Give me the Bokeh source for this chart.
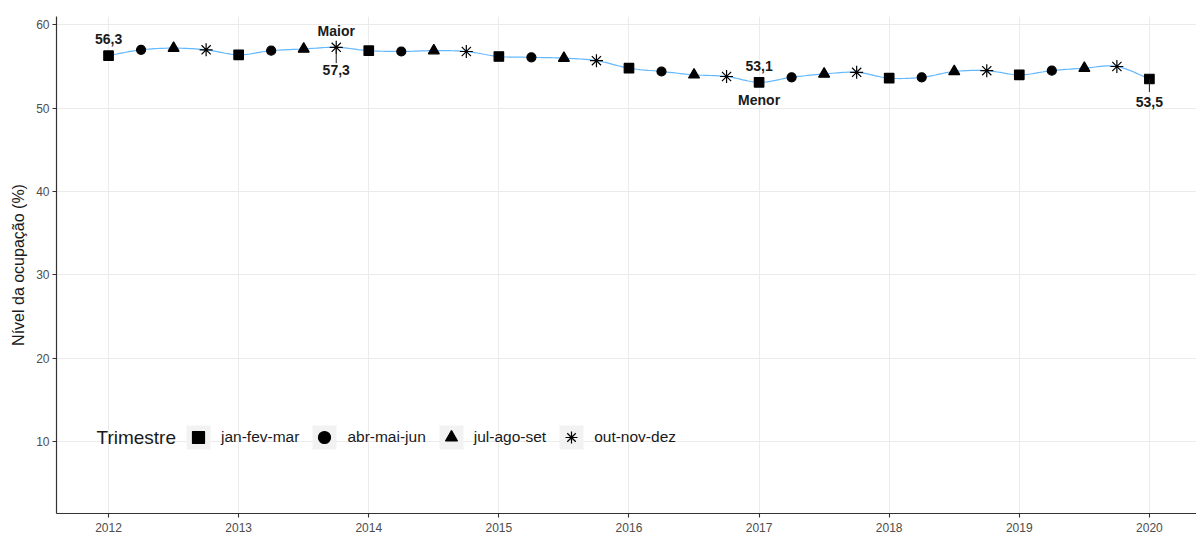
import numpy as np
from bokeh.plotting import figure
from bokeh.models import Range1d, FixedTicker, Legend, LegendItem, Label, ColumnDataSource, CustomJSTickFormatter
from bokeh.core.properties import value
from bokeh.embed import file_html
from bokeh.resources import INLINE

# ---------------- data ----------------
ano = [2012, 2012, 2012, 2012,
       2013, 2013, 2013, 2013,
       2014, 2014, 2014, 2014,
       2015, 2015, 2015, 2015,
       2016, 2016, 2016, 2016,
       2017, 2017, 2017, 2017,
       2018, 2018, 2018, 2018,
       2019, 2019, 2019, 2019,
       2020]
trimestre_num = [1, 2, 3, 4] * 8 + [1]
nivel = [56.3, 57.0, 57.2, 57.0,
         56.4, 56.9, 57.1, 57.3,
         56.9, 56.8, 56.9, 56.8,
         56.2, 56.1, 56.0, 55.7,
         54.8, 54.4, 54.0, 53.8,
         53.1, 53.7, 54.1, 54.3,
         53.6, 53.7, 54.4, 54.5,
         54.0, 54.5, 54.8, 55.0,
         53.5]
trimestres = ["jan-fev-mar", "abr-mai-jun", "jul-ago-set", "out-nov-dez"]
x_ticks = [2012, 2013, 2014, 2015, 2016, 2017, 2018, 2019, 2020]
y_ticks = [10, 20, 30, 40, 50, 60]

FONT = "Liberation Sans"

x = np.array(ano) + (np.array(trimestre_num) - 1) / 4.0
y = np.array(nivel)


def catmull(xs, ys, n=12):
    P = np.column_stack([xs, ys])
    P = np.vstack([P[0], P, P[-1]])
    out = []
    t = np.linspace(0, 1, n, endpoint=False)[:, None]
    for i in range(1, len(P) - 2):
        p0, p1, p2, p3 = P[i - 1], P[i], P[i + 1], P[i + 2]
        seg = 0.5 * ((2 * p1) + (-p0 + p2) * t + (2 * p0 - 5 * p1 + 4 * p2 - p3) * t ** 2
                     + (-p0 + 3 * p1 - 3 * p2 + p3) * t ** 3)
        out.append(seg)
    out.append(P[-2][None, :])
    arr = np.vstack(out)
    return arr[:, 0], arr[:, 1]


p = figure(width=1196, height=539, output_backend="svg", toolbar_location=None,
           x_range=Range1d(2011.6, 2020.362), y_range=Range1d(1.34, 61.0),
           min_border_left=56, min_border_right=0, min_border_top=16, min_border_bottom=26)
p.outline_line_color = None
p.background_fill_color = "white"

# grid
p.xgrid.ticker = FixedTicker(ticks=x_ticks)
p.ygrid.ticker = FixedTicker(ticks=y_ticks)
p.xgrid.grid_line_color = "#EBEBEB"
p.ygrid.grid_line_color = "#EBEBEB"
p.xgrid.grid_line_width = 1
p.ygrid.grid_line_width = 1

# axes
for ax in (p.xaxis[0], p.yaxis[0]):
    ax.axis_line_color = "#333333"
    ax.axis_line_width = 1.2
    ax.major_tick_line_color = "#333333"
    ax.major_tick_line_width = 1.1
    ax.major_tick_out = 4
    ax.major_tick_in = 0
    ax.minor_tick_line_color = None
    ax.major_label_text_font = FONT
    ax.major_label_text_font_size = "12px"
    ax.major_label_text_color = "#4D4D4D"
    ax.major_label_standoff = 3
p.xaxis.major_label_standoff = 5
p.xaxis.ticker = FixedTicker(ticks=x_ticks)
p.yaxis.ticker = FixedTicker(ticks=y_ticks)
p.xaxis.formatter = CustomJSTickFormatter(code="return tick.toFixed(0);")
p.yaxis.axis_label = "Nível da ocupação (%)"
p.yaxis.axis_label_text_font = FONT
p.yaxis.axis_label_text_font_size = "16px"
p.yaxis.axis_label_text_font_style = "normal"
p.yaxis.axis_label_text_color = "#1A1A1A"
p.yaxis.axis_label_standoff = 6

# smooth line
lx, ly = catmull(x, y)
p.line(lx, ly, line_color="#63B8FF", line_width=1.2)

# markers per trimestre
markers = ["square", "circle", "triangle", "asterisk"]
sizes = [9.5, 9, 11, 13]
tn = np.array(trimestre_num)
renderers = []
for k, (m, s) in enumerate(zip(markers, sizes)):
    mask = tn == (k + 1)
    src = ColumnDataSource(dict(x=x[mask], y=y[mask]))
    r = p.scatter("x", "y", source=src, marker=m, size=s,
                  fill_color="black", line_color="black", line_width=1.2)
    renderers.append(r)

# annotations
imax = int(np.argmax(y))
imin = int(np.argmin(y))
ifirst = 0
ilast = len(y) - 1


def fmt(v):
    return f"{v:.1f}".replace(".", ",")


ann_x = [x[ifirst], x[imax], x[imax], x[imin], x[imin], x[ilast]]
ann_y = [y[ifirst], y[imax], y[imax], y[imin], y[imin], y[ilast]]
ann_t = [fmt(y[ifirst]), "Maior", fmt(y[imax]), fmt(y[imin]), "Menor", fmt(y[ilast])]
ann_off = [-17, -16, 23, -16.5, 17.5, 23]
p.text(x=ann_x, y=ann_y, text=ann_t, y_offset=ann_off,
       text_font=value(FONT), text_font_size="14px", text_font_style="bold",
       text_color="#1A1A1A", text_align="center", text_baseline="middle")

# leader segments (below max and last)
seg_x = [x[imax], x[ilast]]
seg_y0 = [y[imax], y[ilast]]
seg_y1 = [y[imax] - 1.9, y[ilast] - 1.55]
p.segment(x0=seg_x, y0=seg_y0, x1=seg_x, y1=seg_y1, line_color="#1A1A1A", line_width=1)

# legend (grey key background: zero-size rect used only for the legend swatch)
bg = p.rect(x=x[:1], y=y[:1], width=0, height=0, fill_color="#F2F2F2", line_color=None)
items = [LegendItem(label=trimestres[k], renderers=[bg, renderers[k]]) for k in range(4)]
legend = Legend(items=items, orientation="horizontal", location=(127, 61),
                glyph_width=30, glyph_height=30, label_standoff=8, spacing=10,
                padding=0, margin=0, border_line_color=None, background_fill_alpha=0,
                label_text_font=FONT, label_text_font_size="15.5px", label_text_color="#1A1A1A")
p.add_layout(legend, "center")

p.add_layout(Label(x=40, y=76, x_units="screen", y_units="screen", text="Trimestre",
                   text_font=FONT, text_font_size="19px", text_color="#1A1A1A",
                   text_baseline="middle", text_align="left"))

open("out.html", "w").write(file_html(p, INLINE))
